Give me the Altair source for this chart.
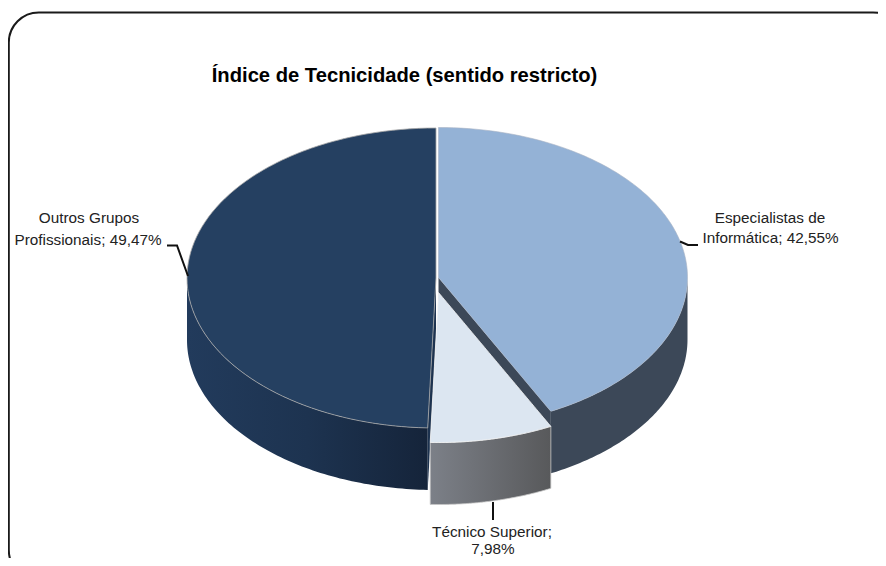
import numpy as np
import pandas as pd
import altair as alt

# ---- data ----
categories = ["Especialistas de Informática", "Técnico Superior", "Outros Grupos Profissionais"]
shares = [42.55, 7.98, 49.47]
title_text = "Índice de Tecnicidade (sentido restricto)"

W, H = 870, 550
OX, OY = 8, 8  # page margin
RX, RY, DEPTH = 249, 150, 62
CY = 277.5
FONT = "Liberation Sans"

cum = np.cumsum([0] + shares) / 100 * 2 * np.pi
a_blue = (cum[0], cum[1])
a_light = (cum[1], cum[2])
a_dark = (cum[2], cum[3])
C_BLUE = (438.5, CY)
C_LIGHT = (438.5, CY + 15)
C_DARK = (436, CY + 0.5)


def arc(c, a0, a1, n=90):
    t = np.linspace(a0, a1, n)
    return c[0] + RX * np.sin(t) - OX, c[1] - RY * np.cos(t) - OY


def poly_frame(px, py):
    px, py = np.asarray(px, float), np.asarray(py, float)
    xs = np.unique(np.round(px, 3))
    rows = []
    n = len(px)
    for x in xs:
        ys = []
        for i in range(n):
            x0, y0, x1, y1 = px[i], py[i], px[(i + 1) % n], py[(i + 1) % n]
            lo, hi = min(x0, x1), max(x0, x1)
            if lo - 1e-3 <= x <= hi + 1e-3:
                if abs(x1 - x0) < 1e-6:
                    ys += [y0, y1]
                else:
                    ys.append(y0 + (y1 - y0) * (x - x0) / (x1 - x0))
        rows.append((x, min(ys), max(ys)))
    return pd.DataFrame(rows, columns=["x", "y", "y2"])


def wedge_frame(c, a):
    ax, ay = arc(c, *a)
    return poly_frame(np.r_[c[0] - OX, ax], np.r_[c[1] - OY, ay])


def wall_frame(c, a):
    a0, a1 = a
    lo = np.pi / 2
    hi = 3 * np.pi / 2
    a0, a1 = max(a0, lo), min(a1, hi)
    ax, ay = arc(c, a0, a1)
    return pd.DataFrame({"x": ax, "y": ay, "y2": ay + DEPTH}).sort_values("x")


def face_frame(c, angle):
    ex, ey = arc(c, angle, angle, 1)
    ax, ay = c[0] - OX, c[1] - OY
    return poly_frame([ax, ex[0], ex[0], ax], [ay, ey[0], ey[0] + DEPTH, ay + DEPTH])


xs = alt.Scale(domain=[0, W], range=[0, W], nice=False, zero=False)
ys = alt.Scale(domain=[0, H], range=[0, H], nice=False, zero=False)
X = alt.X("x:Q", scale=xs, axis=None)
Y = alt.Y("y:Q", scale=ys, axis=None)
Y2 = alt.Y2("y2:Q")


def grad(stops):
    return alt.Gradient(
        gradient="linear", x1=0, x2=1, y1=0, y2=0,
        stops=[alt.GradientStop(offset=o, color=c) for o, c in stops],
    )


def area(df, fill, stroke=None, sw=1.0):
    kw = {"stroke": stroke, "strokeWidth": sw} if stroke else {}
    return alt.Chart(df).mark_area(fill=fill, interpolate="linear", **kw).encode(x=X, y=Y, y2=Y2)


frame_df = pd.DataFrame({"x": [0.8], "x2": [895], "y": [4.4], "y2": [572]})
frame = alt.Chart(frame_df).mark_rect(
    fill="white", stroke="#1a1a1a", strokeWidth=2, cornerRadius=30
).encode(x=X, x2="x2:Q", y=Y, y2=Y2)

EDGE = "#a8a8a8"
layers = [
    frame,
    area(wall_frame(C_DARK, a_dark),
         grad([(0, "#223b5c"), (0.5, "#1d3350"), (1, "#15243a")])),
    area(wall_frame(C_BLUE, a_blue), "#3c4858"),
    area(face_frame(C_DARK, a_dark[0]), "#1d3350"),
    area(face_frame(C_BLUE, a_blue[1]), "#3c4858"),
    area(wedge_frame(C_DARK, a_dark), "#254061", EDGE, 0.8),
    area(wedge_frame(C_BLUE, a_blue), "#94b2d6", "#a9b4c4", 0.6),
    area(wall_frame(C_LIGHT, a_light),
         grad([(0, "#7c8088"), (1, "#58595b")]), "#c8c8c8", 0.8),
    area(wedge_frame(C_LIGHT, a_light), "#dce6f1", "#f4f4f4", 0.8),
]

# leader lines
leaders = pd.DataFrame({
    "g": ["a"] * 3 + ["b"] * 3 + ["c"] * 2,
    "o": [0, 1, 2, 0, 1, 2, 0, 1],
    "x": [159, 169, 180, 672, 680, 690, 485, 485],
    "y": [237.5, 237.5, 268, 233.5, 237, 237, 494, 512],
})
layers.append(
    alt.Chart(leaders).mark_line(color="#111111", strokeWidth=2).encode(
        x=X, y=Y, detail="g:N", order="o:Q")
)

# labels
label_text = ["Outros Grupos", "Profissionais; 49,47%", "Especialistas de",
              "Informática; 42,55%", "Técnico Superior;", "7,98%"]
label_x = [81, 80, 762, 762.5, 484, 485]
label_y = [215, 237, 214.5, 235, 529, 546]
labels = pd.DataFrame({"x": label_x, "y": label_y, "t": label_text})
layers.append(
    alt.Chart(labels).mark_text(font=FONT, fontSize=15.3, color="#222222", baseline="alphabetic",
                                align="center").encode(x=X, y=Y, text="t:N")
)
title_df = pd.DataFrame({"x": [396.5], "y": [73.5], "t": [title_text]})
layers.append(
    alt.Chart(title_df).mark_text(font=FONT, fontSize=20.2, fontWeight="bold", color="#000000",
                                  baseline="alphabetic", align="center").encode(x=X, y=Y, text="t:N")
)

chart = alt.layer(*layers).properties(
    width=W, height=H, padding=0, autosize=alt.AutoSizeParams(type="none"), background="white"
).configure_view(stroke=None)

chart.save("out.html", embed_options={"renderer": "svg", "actions": False})
